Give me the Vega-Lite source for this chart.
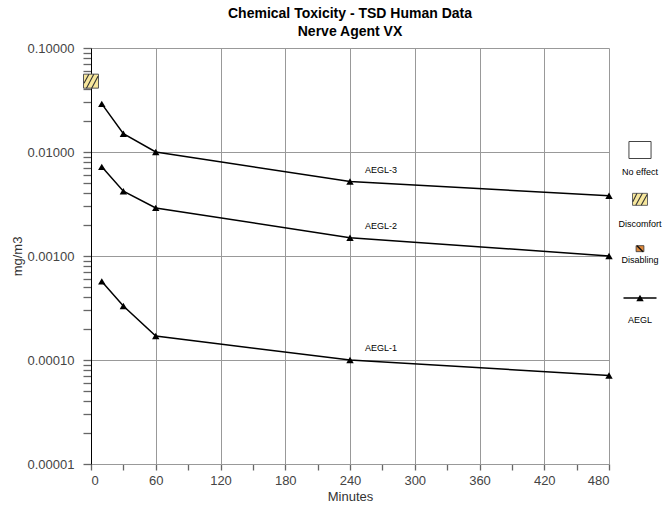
{
  "$schema": "https://vega.github.io/schema/vega-lite/v6.json",
  "padding": {"left": 11, "top": 7, "right": 0, "bottom": 0},
  "background": "white",
  "config": {
    "view": {"stroke": null},
    "font": "Liberation Sans",
    "concat": {"spacing": 0}
  },
  "datasets": {
    "aegl": [
      {"series": "AEGL-1", "minutes": 10, "value": 0.00057},
      {"series": "AEGL-1", "minutes": 30, "value": 0.00033},
      {"series": "AEGL-1", "minutes": 60, "value": 0.00017},
      {"series": "AEGL-1", "minutes": 240, "value": 0.0001},
      {"series": "AEGL-1", "minutes": 480, "value": 0.000071},
      {"series": "AEGL-2", "minutes": 10, "value": 0.0072},
      {"series": "AEGL-2", "minutes": 30, "value": 0.0042},
      {"series": "AEGL-2", "minutes": 60, "value": 0.0029},
      {"series": "AEGL-2", "minutes": 240, "value": 0.0015},
      {"series": "AEGL-2", "minutes": 480, "value": 0.001},
      {"series": "AEGL-3", "minutes": 10, "value": 0.029},
      {"series": "AEGL-3", "minutes": 30, "value": 0.015},
      {"series": "AEGL-3", "minutes": 60, "value": 0.01},
      {"series": "AEGL-3", "minutes": 240, "value": 0.0052},
      {"series": "AEGL-3", "minutes": 480, "value": 0.0038}
    ],
    "human": [
      {"category": "Discomfort", "minutes": 0, "value": 0.048}
    ],
    "legend": [
      {"item": "No effect"},
      {"item": "Discomfort"},
      {"item": "Disabling"},
      {"item": "AEGL"}
    ]
  },
  "hconcat": [
    {
      "title": {
        "text": ["Chemical Toxicity - TSD Human Data", "Nerve Agent VX"],
        "fontSize": 14,
        "fontWeight": "bold",
        "anchor": "middle",
        "lineHeight": 18,
        "offset": 3,
        "color": "black",
        "font": "Liberation Sans"
      },
      "width": 518,
      "height": 416,
      "encoding": {
        "x": {
          "field": "minutes",
          "type": "quantitative",
          "title": "Minutes",
          "scale": {"domain": [0, 480], "nice": false, "zero": false},
          "axis": {
            "values": [0, 30, 60, 90, 120, 150, 180, 210, 240, 270, 300, 330, 360, 390, 420, 450, 480],
            "labelExpr": "datum.value % 60 == 0 ? datum.label : ''",
            "labelOverlap": false,
            "grid": true,
            "gridColor": {"condition": {"test": "datum.value % 60 == 0", "value": "#999999"}, "value": "transparent"},
            "ticks": true,
            "tickSize": 6,
            "tickColor": "#666666",
            "tickWidth": 1.3,
            "domainColor": "#999999",
            "labelFontSize": 13,
            "labelColor": "#444444",
            "labelPadding": 4,
            "titleFontSize": 13,
            "titleFontWeight": "normal",
            "titleColor": "#333333",
            "titlePadding": 3
          }
        },
        "y": {
          "field": "value",
          "type": "quantitative",
          "title": "mg/m3",
          "scale": {"type": "log", "domain": [0.00001, 0.1], "nice": false},
          "axis": {
            "values": [0.00001, 0.00002, 0.00003, 0.00004, 0.00005, 0.00006, 0.00007, 0.00008, 0.00009,
                       0.0001, 0.0002, 0.0003, 0.0004, 0.0005, 0.0006, 0.0007, 0.0008, 0.0009,
                       0.001, 0.002, 0.003, 0.004, 0.005, 0.006, 0.007, 0.008, 0.009,
                       0.01, 0.02, 0.03, 0.04, 0.05, 0.06, 0.07, 0.08, 0.09, 0.1],
            "labelExpr": "abs(log(datum.value)/LN10 - round(log(datum.value)/LN10)) < 0.001 ? format(datum.value, '.5f') : ''",
            "labelOverlap": false,
            "grid": true,
            "gridOpacity": {"condition": {"test": "abs(log(datum.value)/LN10 - round(log(datum.value)/LN10)) < 0.001", "value": 1}, "value": 0},
            "gridColor": "#999999",
            "ticks": true,
            "tickSize": 8,
            "tickColor": "#666666",
            "tickWidth": 1.3,
            "domainColor": "black",
            "labelFontSize": 13,
            "labelColor": "#444444",
            "labelPadding": 9,
            "titleFontSize": 13,
            "titleFontWeight": "normal",
            "titleColor": "#333333",
            "titlePadding": 3
          }
        }
      },
      "layer": [
        {
          "data": {"name": "aegl"},
          "mark": {"type": "line", "color": "black", "strokeWidth": 1.5},
          "encoding": {"detail": {"field": "series"}}
        },
        {
          "data": {"name": "aegl"},
          "mark": {"type": "point", "shape": "triangle-up", "filled": true, "color": "black", "size": 55, "opacity": 1}
        },
        {
          "data": {"name": "aegl"},
          "transform": [{"filter": "datum.minutes == 240"}],
          "mark": {"type": "text", "dx": 31, "dy": -12, "fontSize": 9, "color": "black", "font": "Liberation Sans"},
          "encoding": {"text": {"field": "series"}}
        },
        {
          "data": {"name": "human"},
          "mark": {"type": "point", "shape": "M-1.07,-1H1.07V1H-1.07Z", "size": 196, "filled": true, "fill": "#f7e79c", "stroke": "#555555", "strokeWidth": 1, "opacity": 1}
        },
        {
          "data": {"name": "human"},
          "mark": {"type": "point", "shape": "M-1,0.3L-0.3,-1M-0.65,1L0.4,-1M0.1,1L1,-0.7", "size": 196, "filled": false, "stroke": "#333333", "strokeWidth": 1.1, "opacity": 1}
        }
      ]
    },
    {
      "width": 54,
      "height": 416,
      "data": {"name": "legend"},
      "encoding": {
        "y": {
          "field": "item",
          "type": "nominal",
          "scale": {"type": "point", "domain": ["No effect", "Discomfort", "Disabling", "AEGL"], "range": [102, 250], "padding": 0},
          "axis": null
        }
      },
      "layer": [
        {
          "transform": [{"filter": "datum.item == 'No effect'"}],
          "mark": {"type": "point", "shape": "M-1.3,-1H1.3V1H-1.3Z", "size": 289, "filled": true, "fill": "white", "stroke": "#444444", "strokeWidth": 1, "opacity": 1}
        },
        {
          "transform": [{"filter": "datum.item == 'Discomfort'"}],
          "mark": {"type": "point", "shape": "M-1.25,-1H1.25V1H-1.25Z", "size": 144, "filled": true, "fill": "#f7e79c", "stroke": "#666666", "strokeWidth": 1, "opacity": 1}
        },
        {
          "transform": [{"filter": "datum.item == 'Discomfort'"}],
          "mark": {"type": "point", "shape": "M-1.2,0.4L-0.5,-1M-0.7,1L0.4,-1M0.2,1L1.2,-0.8", "size": 144, "filled": false, "stroke": "#333333", "strokeWidth": 1.1, "opacity": 1}
        },
        {
          "transform": [{"filter": "datum.item == 'Disabling'"}],
          "mark": {"type": "point", "shape": "M-1.3,-1H1.3V1H-1.3Z", "size": 36, "filled": true, "fill": "#e08a3c", "stroke": "#333333", "strokeWidth": 0.8, "opacity": 1}
        },
        {
          "transform": [{"filter": "datum.item == 'Disabling'"}],
          "mark": {"type": "point", "shape": "M-1,-1L1,1", "size": 36, "filled": false, "stroke": "#111111", "strokeWidth": 1.5, "opacity": 1}
        },
        {
          "transform": [{"filter": "datum.item == 'AEGL'"}],
          "mark": {"type": "point", "shape": "M-1,0H1", "size": 1089, "filled": false, "stroke": "black", "strokeWidth": 1.6, "opacity": 1}
        },
        {
          "transform": [{"filter": "datum.item == 'AEGL'"}],
          "mark": {"type": "point", "shape": "triangle-up", "size": 55, "filled": true, "color": "black", "opacity": 1}
        },
        {
          "transform": [{"filter": "datum.item == 'No effect' || datum.item == 'AEGL'"}],
          "mark": {"type": "text", "dy": 22, "fontSize": 9, "color": "black", "font": "Liberation Sans"},
          "encoding": {"text": {"field": "item"}}
        },
        {
          "transform": [{"filter": "datum.item == 'Discomfort'"}],
          "mark": {"type": "text", "dy": 25, "fontSize": 9, "color": "black", "font": "Liberation Sans"},
          "encoding": {"text": {"field": "item"}}
        },
        {
          "transform": [{"filter": "datum.item == 'Disabling'"}],
          "mark": {"type": "text", "dy": 11, "fontSize": 9, "color": "black", "font": "Liberation Sans"},
          "encoding": {"text": {"field": "item"}}
        }
      ]
    }
  ]
}
